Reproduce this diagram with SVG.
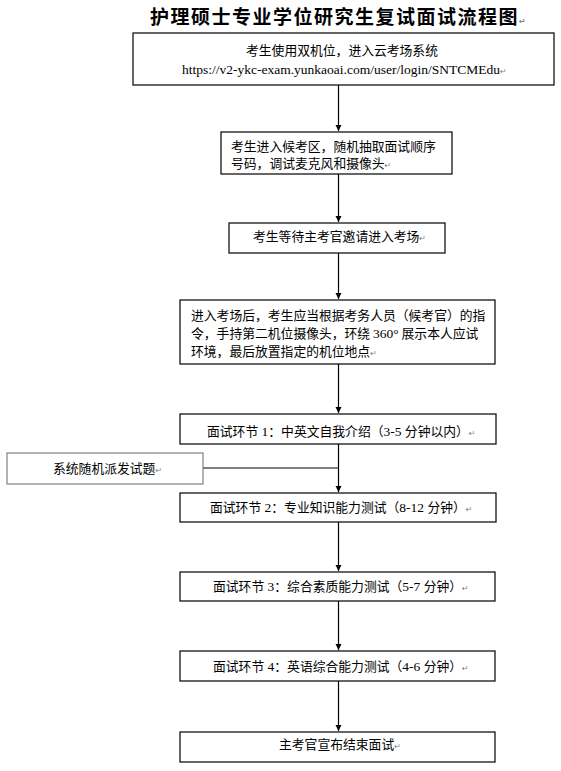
<svg xmlns="http://www.w3.org/2000/svg" width="561" height="771" viewBox="0 0 561 771">
<style>
.box{fill:#fff;stroke:#000;stroke-width:1.2}
.gbox{fill:#fff;stroke:#808080;stroke-width:1.2}
.t{font-family:"Noto Sans CJK SC","Noto Sans",sans-serif;font-size:12.8px;fill:#000}
.l{font-family:"Liberation Serif",serif}
.pm{font-family:"DejaVu Sans",sans-serif;font-size:8px;fill:#808080;letter-spacing:0}
.title{font-family:"Noto Sans CJK SC",sans-serif;font-size:19px;font-weight:700;letter-spacing:1.5px;fill:#000}
.c{stroke:#000;stroke-width:1.2;fill:none}
</style>
<defs>
<marker id="ah" markerWidth="6" markerHeight="8" refX="6" refY="4" orient="auto" markerUnits="userSpaceOnUse">
<path d="M0,1 L6,4 L0,7 Z" fill="#000"/>
</marker>
</defs>
<text class="title" x="150" y="24">护理硕士专业学位研究生复试面试流程图<tspan class="pm">↵</tspan></text>

<g id="connectors">
<line class="c" x1="338.5" y1="85" x2="338.5" y2="131" marker-end="url(#ah)"/>
<line class="c" x1="338.5" y1="174" x2="338.5" y2="222" marker-end="url(#ah)"/>
<line class="c" x1="338.5" y1="253" x2="338.5" y2="299" marker-end="url(#ah)"/>
<line class="c" x1="338.5" y1="364" x2="338.5" y2="413" marker-end="url(#ah)"/>
<line class="c" x1="338.5" y1="444" x2="338.5" y2="492" marker-end="url(#ah)"/>
<line class="c" x1="203" y1="468" x2="338.5" y2="468"/>
<line class="c" x1="338.5" y1="522" x2="338.5" y2="571" marker-end="url(#ah)"/>
<line class="c" x1="338.5" y1="601" x2="338.5" y2="650" marker-end="url(#ah)"/>
<line class="c" x1="338.5" y1="681" x2="338.5" y2="731" marker-end="url(#ah)"/>
</g>

<g id="n1">
<rect class="box" x="133" y="33" width="421" height="52"/>
<text class="t" x="246" y="55">考生使用双机位，进入云考场系统</text>
<text class="t" x="182" y="74"><tspan class="l" font-size="13.5" textLength="318">https://v2-ykc-exam.yunkaoai.com/user/login/SNTCMEdu</tspan><tspan class="pm">↵</tspan></text>
</g>

<g id="n2">
<rect class="box" x="221" y="132" width="231" height="42"/>
<text class="t" x="231" y="151">考生进入候考区，随机抽取面试顺序</text>
<text class="t" x="231" y="168">号码，调试麦克风和摄像头<tspan class="pm">↵</tspan></text>
</g>

<g id="n3">
<rect class="box" x="229" y="223" width="216" height="30"/>
<text class="t" x="253" y="241">考生等待主考官邀请进入考场<tspan class="pm">↵</tspan></text>
</g>

<g id="n4">
<rect class="box" x="180" y="300" width="315" height="64"/>
<text class="t" x="191" y="320">进入考场后，考生应当根据考务人员（候考官）的指</text>
<text class="t" x="191" y="338">令，手持第二机位摄像头，环绕 <tspan class="l" font-size="13.5">360°</tspan> 展示本人应试</text>
<text class="t" x="191" y="356">环境，最后放置指定的机位地点<tspan class="pm">↵</tspan></text>
</g>

<g id="n5">
<rect class="box" x="180" y="414" width="316" height="30"/>
<text class="t" x="207" y="436">面试环节<tspan class="l" font-size="13.5"> 1</tspan>：中英文自我介绍（<tspan class="l" font-size="13.5">3-5 </tspan>分钟以内）<tspan class="pm">↵</tspan></text>
</g>

<g id="side">
<rect class="gbox" x="7" y="453" width="196" height="31"/>
<text class="t" x="53" y="473">系统随机派发试题<tspan class="pm">↵</tspan></text>
</g>

<g id="n6">
<rect class="box" x="180" y="493" width="316" height="29"/>
<text class="t" x="210" y="512">面试环节<tspan class="l" font-size="13.5"> 2</tspan>：专业知识能力测试（<tspan class="l" font-size="13.5">8-12 </tspan>分钟）<tspan class="pm">↵</tspan></text>
</g>

<g id="n7">
<rect class="box" x="180" y="572" width="315" height="29"/>
<text class="t" x="213" y="591">面试环节<tspan class="l" font-size="13.5"> 3</tspan>：综合素质能力测试（<tspan class="l" font-size="13.5">5-7 </tspan>分钟）<tspan class="pm">↵</tspan></text>
</g>

<g id="n8">
<rect class="box" x="180" y="651" width="315" height="30"/>
<text class="t" x="213" y="671">面试环节<tspan class="l" font-size="13.5"> 4</tspan>：英语综合能力测试（<tspan class="l" font-size="13.5">4-6 </tspan>分钟）<tspan class="pm">↵</tspan></text>
</g>

<g id="n9">
<rect class="box" x="180" y="732" width="315" height="30"/>
<text class="t" x="279" y="749">主考官宣布结束面试<tspan class="pm">↵</tspan></text>
</g>
</svg>
